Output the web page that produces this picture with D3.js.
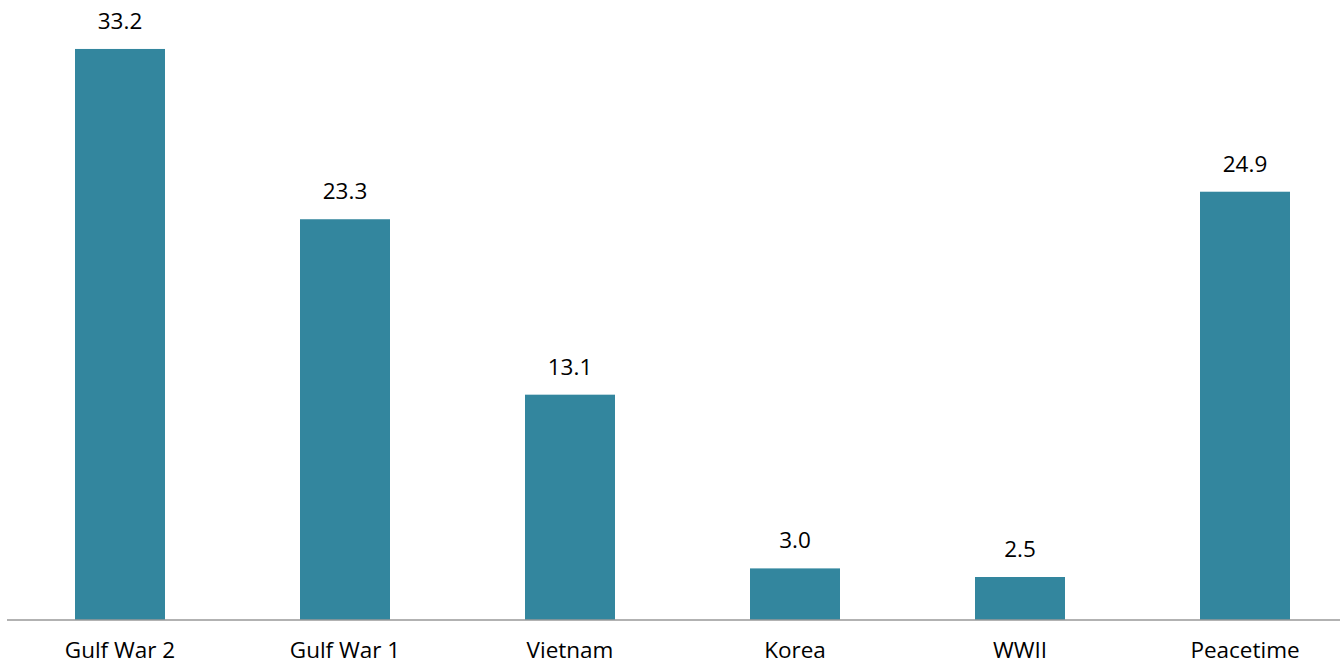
<!doctype html>
<html>
<head>
<meta charset="utf-8" />
<title>Bar chart</title>
<style>
  html,body{margin:0;background:#fff}
  svg{display:block}
  .val,.cat{font-family:"Open Sans", sans-serif;font-size:22.5px;fill:#000}
</style>
</head>
<body>
<svg id="chart" width="1340" height="666"></svg>
<script src="https://cdn.jsdelivr.net/npm/d3@7"></script>
<script>
// data
const categories = ['Gulf War 2', 'Gulf War 1', 'Vietnam', 'Korea', 'WWII', 'Peacetime'];
const values     = [33.2, 23.3, 13.1, 3.0, 2.5, 24.9];

const W = 1340, H = 666;
const base = 620;

const svg = d3.select('#chart');

const x = d3.scaleBand()
  .domain(categories)
  .range([7.5, 1357.5])
  .paddingInner(0.6)
  .paddingOuter(0.3);

const y = d3.scaleLinear()
  .domain([0, 36])
  .range([base, base - 36 * 17.2]);

// bars
svg.selectAll('rect.bar')
  .data(categories)
  .join('rect')
  .attr('class', 'bar')
  .attr('x', d => x(d))
  .attr('width', x.bandwidth())
  .attr('y', (d, i) => y(values[i]))
  .attr('height', (d, i) => base - y(values[i]))
  .attr('fill', '#33869e');

// value labels
svg.selectAll('text.val')
  .data(categories)
  .join('text')
  .attr('class', 'val')
  .attr('x', d => x(d) + x.bandwidth() / 2)
  .attr('y', (d, i) => y(values[i]) - 20)
  .attr('text-anchor', 'middle')
  .text((d, i) => values[i].toFixed(1));

// x axis
const xAxis = d3.axisBottom(x).tickSize(0).tickPadding(0);
const ax = svg.append('g')
  .attr('transform', `translate(0,${base})`)
  .call(xAxis);
ax.select('.domain').remove();
ax.append('line')
  .attr('x1', 7).attr('x2', W)
  .attr('y1', 0).attr('y2', 0)
  .attr('stroke', '#999').attr('stroke-width', 1.5);
ax.selectAll('.tick text')
  .attr('class', 'cat')
  .attr('dy', null)
  .attr('y', 38)
  .attr('fill', '#000');
</script>
</body>
</html>
